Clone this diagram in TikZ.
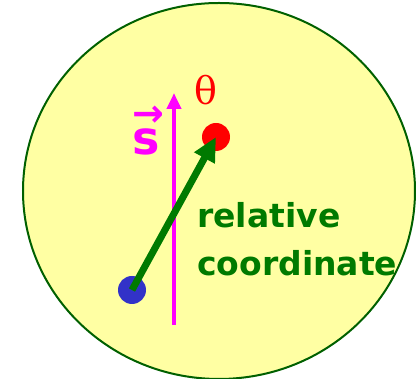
\documentclass[tikz,border=0pt]{standalone}
\usepackage{fontspec}
\setmainfont{DejaVu Sans}
\newfontfamily\greekfont{DejaVu Serif}
\usetikzlibrary{arrows.meta}

\definecolor{paleyellow}{RGB}{255,255,163}
\definecolor{rimgreen}{RGB}{0,96,0}
\definecolor{arrowgreen}{RGB}{0,122,0}
\definecolor{dotblue}{RGB}{50,50,200}
\definecolor{spinpink}{RGB}{255,0,255}

\begin{document}
\begin{tikzpicture}[x=1pt, y=1pt,
  % filled particles
  particle/.style={circle, inner sep=0pt, minimum size=28pt},
  % green text label
  greenlabel/.style={font=\bfseries\fontsize{33}{48}\selectfont, text=arrowgreen,
                     align=left, inner sep=0pt, anchor=north west}
]
  \useasboundingbox (0,0) rectangle (416,379);

  % Background blob
  \draw[rimgreen, line width=2pt, fill=paleyellow] (219,188) ellipse (196 and 188);

  % Spin axis
  \coordinate (axisbot) at (174,54);
  \coordinate (axistop) at (174,286);
  \draw[spinpink, line width=4pt, -{Triangle[length=16pt, width=14pt]}] (axisbot) -- (axistop);
  \node[text=spinpink, font=\bfseries\fontsize{46}{46}\selectfont, anchor=base west,
        inner sep=0pt] (spin) at (132,224)
    {\makebox[0pt][l]{\raisebox{28pt}{\fontsize{38}{38}\selectfont →}}s};

  % Particles
  \node[particle, fill=red] (red) at (216,242) {};
  \node[particle, fill=dotblue] (blue) at (132,89) {};
  \node[text=red, font=\greekfont\fontsize{38}{38}\selectfont, inner sep=0pt] (theta)
    at (206,289) {θ};

  % Relative coordinate arrow
  \draw[arrowgreen, line width=7pt, -{Triangle[length=24pt, width=22pt]}]
    (blue.center) -- (red.center);
  \node[greenlabel] (rel) at (197,177) {relative\\coordinate};

\end{tikzpicture}
\end{document}
